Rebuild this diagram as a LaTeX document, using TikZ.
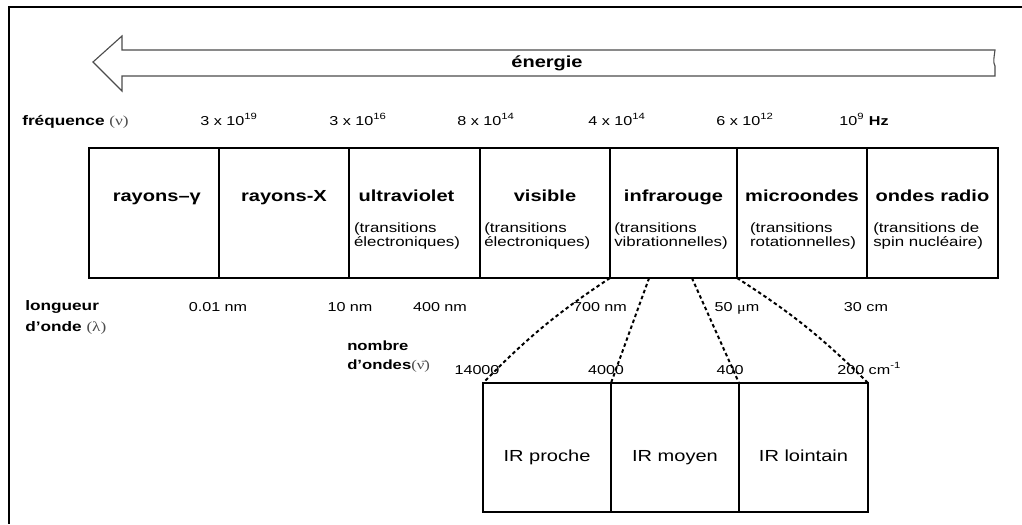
\documentclass[tikz,border=0pt]{standalone}
\usepackage{fontspec}
\setmainfont{Liberation Sans}[FakeStretch=1.25]
\newfontfamily\grk{Liberation Serif}[FakeStretch=1.25]
\usetikzlibrary{positioning,calc}

\tikzset{
  cell/.style={draw=black, line width=1.3pt, minimum height=3.25cm, inner sep=0pt, outer sep=0pt},
  irbox/.style={draw=black, line width=1.3pt, minimum height=3.225cm, inner sep=0pt, outer sep=0pt},
  titre/.style={font=\fontsize{11.4}{13}\selectfont\bfseries, anchor=base, inner sep=0pt},
  soustitre/.style={font=\fontsize{9.6}{10}\selectfont, align=left, anchor=north west, inner sep=0pt},
  valeur/.style={font=\fontsize{9.2}{11}\selectfont, anchor=base, inner sep=0pt},
  gauche/.style={font=\fontsize{9.8}{14}\selectfont\bfseries, align=left, anchor=north west, inner sep=0pt},
  irtexte/.style={font=\fontsize{11.4}{13}\selectfont, anchor=base, inner sep=0pt},
  zoomline/.style={line width=1.4pt, dash pattern=on 2.5pt off 2pt},
}

\begin{document}
\begin{tikzpicture}
    \useasboundingbox (0,0) rectangle (25.55,-13.1);
    % cadre
    \draw[line width=1.5pt] (25.55,-0.175) -- (0.225,-0.175) -- (0.225,-13.1);

    % fleche energie
    \draw[line width=0.8pt, black!70] (3.05,-1.25) -- (3.05,-0.9) -- (2.325,-1.55) -- (3.05,-2.275)
        -- (3.05,-1.9) -- (24.875,-1.9) -- (24.875,-1.65)
        .. controls (24.82,-1.55) and (24.85,-1.45) .. (24.875,-1.25) -- cycle;
    \node[font=\fontsize{11.4}{13}\selectfont\bfseries] (energie) at (13.675,-1.575) {énergie};

    % frequences
    \node[gauche, anchor=base west] (freq) at (0.55,-3.125) {fréquence {\mdseries\grk\color{black!70}(ν)}};
    \node[valeur] (f1) at (5.725,-3.125) {3 x 10\textsuperscript{19}};
    \node[valeur] (f2) at (8.95,-3.125) {3 x 10\textsuperscript{16}};
    \node[valeur] (f3) at (12.15,-3.125) {8 x 10\textsuperscript{14}};
    \node[valeur] (f4) at (15.425,-3.125) {4 x 10\textsuperscript{14}};
    \node[valeur] (f5) at (18.625,-3.125) {6 x 10\textsuperscript{12}};
    \node[valeur] (f6) at (21.6,-3.125) {10\textsuperscript{9} \textbf{Hz}};

    % spectre
    \node[cell, minimum width=3.25cm] (gam) at (3.85,-5.325) {};
    \node[cell, minimum width=3.25cm, right=0pt of gam] (xray) {};
    \node[cell, minimum width=3.275cm, right=0pt of xray] (uv) {};
    \node[cell, minimum width=3.25cm, right=0pt of uv] (vis) {};
    \node[cell, minimum width=3.175cm, right=0pt of vis] (infra) {};
    \node[cell, minimum width=3.25cm, right=0pt of infra] (micro) {};
    \node[cell, minimum width=3.275cm, right=0pt of micro] (radio) {};
    \draw[line width=1.8pt] (gam.north west) rectangle (radio.south east);

    \node[titre] (tgam) at ([xshift=0.07cm, yshift=-1.325cm]gam.north) {rayons–γ};
    \node[titre] (txray) at ([yshift=-1.325cm]xray.north) {rayons-X};
    \node[titre] (tuv) at ([xshift=-0.2cm, yshift=-1.325cm]uv.north) {ultraviolet};
    \node[titre] (tvis) at ([yshift=-1.325cm]vis.north) {visible};
    \node[titre] (tinfra) at ([yshift=-1.325cm]infra.north) {infrarouge};
    \node[titre] (tmicro) at ([yshift=-1.325cm]micro.north) {microondes};
    \node[titre] (tradio) at ([yshift=-1.325cm]radio.north) {ondes radio};

    \node[soustitre] (suv) at ([xshift=0.12cm, yshift=-1.85cm]uv.north west) {(transitions\\électroniques)};
    \node[soustitre] (svis) at ([xshift=0.1cm, yshift=-1.85cm]vis.north west) {(transitions\\électroniques)};
    \node[soustitre] (sinfra) at ([xshift=0.1cm, yshift=-1.85cm]infra.north west) {(transitions\\vibrationnelles)};
    \node[soustitre] (smicro) at ([xshift=0.32cm, yshift=-1.85cm]micro.north west) {(transitions\\rotationnelles)};
    \node[soustitre] (sradio) at ([xshift=0.15cm, yshift=-1.85cm]radio.north west) {(transitions de\\spin nucléaire)};

    % longueurs d'onde
    \node[gauche, font=\fontsize{9.8}{15}\selectfont\bfseries] (lambda) at (0.625,-7.5) {longueur\\d'onde {\mdseries\grk\color{black!70}(λ)}};
    \node[valeur] (l1) at (5.45,-7.775) {0.01 nm};
    \node[valeur] (l2) at (8.75,-7.775) {10 nm};
    \node[valeur] (l3) at (11.0,-7.775) {400 nm};
    \node[valeur] (l4) at (15.0,-7.775) {700 nm};
    \node[valeur] (l5) at (18.425,-7.775) {50 {\grk μ}m};
    \node[valeur] (l6) at (21.65,-7.775) {30 cm};

    % nombres d'ondes
    \node[gauche, font=\fontsize{9.5}{13.5}\selectfont\bfseries] (nombre) at (8.675,-8.525) {nombre\\d'ondes{\mdseries\grk\color{black!70}(\=ν)}};
    \node[valeur] (n1) at (11.925,-9.35) {14000};
    \node[valeur] (n2) at (15.15,-9.35) {4000};
    \node[valeur] (n3) at (18.25,-9.35) {400};
    \node[valeur, anchor=base west] (n4) at (20.925,-9.35) {200 cm\textsuperscript{-1}};

    % infrarouge
    \node[irbox, minimum width=3.2cm] (irp) at (13.675,-11.1875) {};
    \node[irbox, minimum width=3.2cm, right=0pt of irp] (irm) {};
    \node[irbox, minimum width=3.225cm, right=0pt of irm] (irl) {};
    \draw[line width=1.8pt] (irp.north west) rectangle (irl.south east);
    \node[irtexte] (tirp) at ([yshift=-0.36cm]irp.center) {IR proche};
    \node[irtexte] (tirm) at ([yshift=-0.36cm]irm.center) {IR moyen};
    \node[irtexte] (tirl) at ([yshift=-0.36cm]irl.center) {IR lointain};

    \coordinate (za) at ($(infra.south)+(-0.61,0)$);
    \coordinate (zb) at ($(infra.south)+(0.46,0)$);
    \draw[zoomline] (infra.south west) to[bend right=6] (irp.north west);
    \draw[zoomline] (za) -- (irm.north west);
    \draw[zoomline] (zb) -- (irl.north west);
    \draw[zoomline] (infra.south east) to[bend left=6] (irl.north east);
\end{tikzpicture}
\end{document}
